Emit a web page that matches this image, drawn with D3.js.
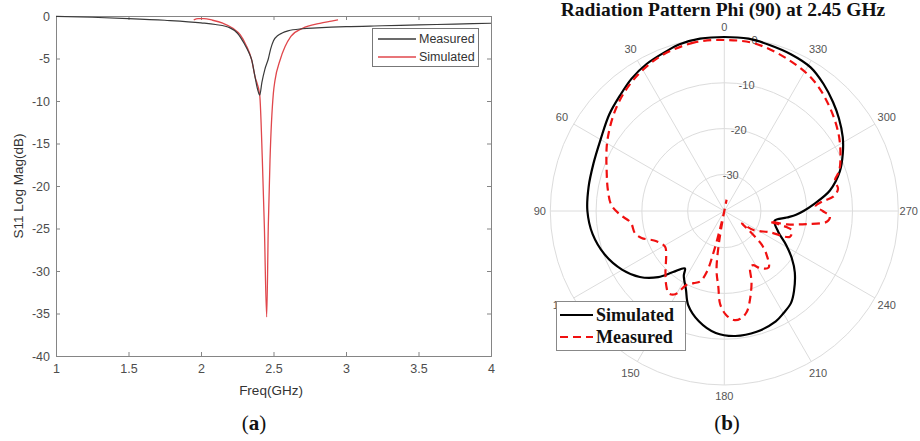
<!DOCTYPE html>
<html>
<head>
<meta charset="utf-8">
<title>S11 and radiation pattern</title>
<script src="https://cdn.jsdelivr.net/npm/d3@7/dist/d3.min.js"></script>
<style type="text/css">
html, body {
    margin: 0;
    padding: 0;
    background: #ffffff;
}
#chart {
    width: 920px;
    height: 441px;
}
.axis path, .axis line {
    stroke: #858585;
}
.axis text {
    fill: #4d4d4d;
    font-family: "Liberation Sans", Arial, sans-serif;
    font-size: 12.5px;
}
</style>
<script>
window.addEventListener("load", init, false);

// (a) S11 data
const freqMeasured = [1.0, 1.25, 1.5, 1.75, 2.0, 2.1, 2.2, 2.25, 2.3, 2.33, 2.35, 2.372, 2.39, 2.405, 2.42, 2.44, 2.465, 2.48, 2.5, 2.53, 2.56, 2.6, 2.7, 2.8, 3.0, 3.25, 3.5, 3.75, 4.0];
const s11Measured = [-0.05, -0.15, -0.3, -0.5, -0.8, -1.0, -1.4, -2.0, -3.3, -4.3, -5.2, -7.1, -8.6, -9.3, -7.8, -6.3, -5.0, -3.9, -2.9, -2.3, -2.0, -1.75, -1.5, -1.4, -1.25, -1.15, -1.05, -0.95, -0.85];

const freqSimulated = [1.95, 1.98, 2.02, 2.08, 2.15, 2.22, 2.27, 2.31, 2.35, 2.372, 2.405, 2.423, 2.437, 2.453, 2.464, 2.476, 2.499, 2.51, 2.545, 2.58, 2.62, 2.70, 2.82, 2.90, 2.945];
const s11Simulated = [-0.45, -0.3, -0.3, -0.5, -0.85, -1.45, -2.2, -3.4, -5.2, -7.1, -9.3, -16.9, -24.8, -35.4, -24.8, -16.9, -9.1, -7.6, -5.2, -3.6, -2.4, -1.45, -0.86, -0.6, -0.45];

const freqTicks = [1, 1.5, 2, 2.5, 3, 3.5, 4];
const s11Ticks = [-40, -35, -30, -25, -20, -15, -10, -5, 0];

// (b) radiation pattern, angle in degrees, gain in dB
const thetaSimulated = [0, 8, 15, 20, 28, 35, 42, 50, 60, 70, 80, 90, 100, 110, 120, 128, 135, 140, 145.5, 148, 154, 159, 167, 176, 185, 195, 205, 210, 216, 221, 229, 235, 241, 249, 259, 264, 267, 270, 274, 281, 289, 296, 302, 309, 315, 322, 329, 337, 345, 352];
const gainSimulated = [0, 0, -0.3, -0.9, -1.7, -2.7, -4.0, -5.2, -6.8, -7.6, -7.9, -8.1, -8.8, -10.2, -12.3, -14.6, -17.6, -20.6, -22.8, -21.3, -18.9, -16.0, -13.3, -11.3, -10.6, -10.7, -11.4, -12.2, -13.2, -14.8, -17.6, -20, -22.5, -25.4, -26.8, -24.3, -22.3, -20.7, -18.6, -14.5, -11.3, -9.2, -7.5, -5.8, -4.4, -2.8, -1.4, -0.8, -0.4, 0];

const thetaMeasured = [0, 10, 23, 35, 46, 59, 72, 80, 87, 92, 97, 104, 108, 114, 121, 127, 136, 142, 146, 149.5, 153, 157, 161, 164, 165.5, 166.5, 167.5, 168.5, 169.5, 170.5, 172.5, 175.5, 177.5, 181, 185, 188.5, 192.5, 196.5, 201, 205, 208, 212, 218, 224, 228, 230, 232.5, 234.7, 237, 245, 248.6, 254, 255.5, 257, 258, 261, 264, 267, 270, 273, 275.5, 277.5, 281, 285.6, 289, 295, 304, 315, 326, 338, 350];
const gainMeasured = [-0.66, -0.6, -1.5, -3.2, -5.3, -8.2, -11.0, -12.2, -13.3, -15.2, -17.4, -17.9, -19.0, -21.8, -22.9, -22.1, -19.5, -17.4, -16.3, -16.9, -19.9, -20.9, -21.7, -24.2, -29, -34, -38, -40.5, -38, -31, -25, -21.4, -17.6, -15.3, -14.1, -14.2, -15.4, -18.1, -21.4, -24.6, -24.6, -23.3, -22.3, -24.7, -27, -29.3, -31.8, -33.3, -30.4, -27, -22.6, -22.7, -24, -27.8, -24, -19.8, -15.5, -14.9, -16.5, -18, -16.5, -14, -12.7, -12.9, -11.5, -10, -7.9, -5.6, -3.4, -2.0, -0.8];

const angleTicks = [0, 30, 60, 90, 120, 150, 180, 210, 240, 270, 300, 330];
const ringTicks = [-30, -20, -10, 0];

function init() {
    const svg = d3.select("#chart").append("svg").attr("width", 920).attr("height", 441);
    svg.append("rect").attr("width", 920).attr("height", 441).attr("fill", "#ffffff");
    drawS11(svg);
    drawPolar(svg);
}

// 左: S11
function drawS11(svg) {
    const x = d3.scaleLinear().domain([1, 4]).range([56, 491]);
    const y = d3.scaleLinear().domain([-40, 0]).range([356, 16]);
    const fmt = d => String(d);

    svg.append("g").attr("class", "axis").attr("transform", "translate(0,356)")
        .call(d3.axisBottom(x).tickValues(freqTicks).tickFormat(fmt).tickSize(-4).tickPadding(8));
    svg.append("g").attr("class", "axis").attr("transform", "translate(0,16)")
        .call(d3.axisTop(x).tickValues(freqTicks).tickFormat("").tickSize(-4));
    svg.append("g").attr("class", "axis").attr("transform", "translate(56,0)")
        .call(d3.axisLeft(y).tickValues(s11Ticks).tickFormat(fmt).tickSize(-4).tickPadding(6));
    svg.append("g").attr("class", "axis").attr("transform", "translate(491,0)")
        .call(d3.axisRight(y).tickValues(s11Ticks).tickFormat("").tickSize(-4));

    const line = d3.line().x(d => x(d[0])).y(d => y(d[1])).curve(d3.curveMonotoneX);

    svg.append("path").datum(d3.zip(freqSimulated, s11Simulated))
        .attr("d", line).attr("fill", "none").attr("stroke", "#e0474c").attr("stroke-width", 1.3);
    svg.append("path").datum(d3.zip(freqMeasured, s11Measured))
        .attr("d", line).attr("fill", "none").attr("stroke", "#3a3a3a").attr("stroke-width", 1.2);

    // 軸ラベル
    svg.append("text").attr("transform", "translate(18,186) rotate(-90)")
        .attr("text-anchor", "middle").attr("dominant-baseline", "central")
        .style("font-family", "'Liberation Sans', Arial, sans-serif").style("font-size", "13.5px").attr("fill", "#333")
        .text("S11 Log Mag(dB)");
    svg.append("text").attr("x", 271).attr("y", 395)
        .attr("text-anchor", "middle")
        .style("font-family", "'Liberation Sans', Arial, sans-serif").style("font-size", "13.5px").attr("fill", "#333")
        .text("Freq(GHz)");

    // 凡例
    const lg = svg.append("g");
    lg.append("rect").attr("x", 372.5).attr("y", 28.5).attr("width", 106).attr("height", 38)
        .attr("fill", "#fff").attr("stroke", "#777");
    const items = [["Measured", "#3a3a3a"], ["Simulated", "#e0474c"]];
    items.forEach((it, i) => {
        const yy = 39 + i * 18;
        lg.append("line").attr("x1", 378).attr("x2", 416).attr("y1", yy).attr("y2", yy)
            .attr("stroke", it[1]).attr("stroke-width", 1.3);
        lg.append("text").attr("x", 419).attr("y", yy).attr("dominant-baseline", "central")
            .style("font-family", "'Liberation Sans', Arial, sans-serif").style("font-size", "12.5px").attr("fill", "#333")
            .text(it[0]);
    });

    const cap = svg.append("text").attr("x", 254).attr("y", 430).attr("text-anchor", "middle")
        .style("font-family", "'Liberation Serif', 'DejaVu Serif', serif").style("font-size", "21px").attr("fill", "#111");
    cap.append("tspan").text("(");
    cap.append("tspan").attr("font-weight", "bold").text("a");
    cap.append("tspan").text(")");
}

// 右: 放射パターン
function drawPolar(svg) {
    const cx = 724.3, cy = 211, R = 174;
    const r = d3.scaleLinear().domain([-38, 0]).range([0, R]);
    const g = svg.append("g").attr("transform", "translate(" + cx + "," + cy + ")");
    const rad = a => a * Math.PI / 180;

    // グリッド
    g.selectAll(".ring").data(ringTicks).enter().append("circle")
        .attr("r", d => r(d)).attr("fill", "none").attr("stroke", "#dcdcdc").attr("stroke-width", 1);
    g.selectAll(".spoke").data(angleTicks).enter().append("line")
        .attr("x1", 0).attr("y1", 0)
        .attr("x2", d => -R * Math.sin(rad(d))).attr("y2", d => -R * Math.cos(rad(d)))
        .attr("stroke", "#dcdcdc").attr("stroke-width", 1);

    // 角度ラベル (斜めのものは少し外側)
    const labelR = d => 184.5 + 3.5 * Math.abs(Math.sin(rad(2 * d)));
    const labelFont = "'Liberation Sans', Arial, sans-serif";
    g.selectAll(".alabel").data(angleTicks).enter().append("text")
        .attr("x", d => -labelR(d) * Math.sin(rad(d))).attr("y", d => -labelR(d) * Math.cos(rad(d)))
        .attr("text-anchor", "middle").attr("dominant-baseline", "central")
        .style("font-family", labelFont).style("font-size", "11px").attr("fill", "#555")
        .text(d => d);
    g.selectAll(".rlabel").data(ringTicks).enter().append("text")
        .attr("x", d => r(d) * Math.sin(rad(10))).attr("y", d => -r(d) * Math.cos(rad(10)))
        .attr("text-anchor", "middle").attr("dominant-baseline", "central")
        .style("font-family", labelFont).style("font-size", "11px").attr("fill", "#555")
        .text(d => String(d));

    const line = d3.lineRadial().angle(d => -rad(d[0])).radius(d => r(d[1]))
        .curve(d3.curveCatmullRomClosed.alpha(0.5));

    g.append("path").datum(d3.zip(thetaSimulated, gainSimulated))
        .attr("d", line).attr("fill", "none").attr("stroke", "#000").attr("stroke-width", 2.2);
    g.append("path").datum(d3.zip(thetaMeasured, gainMeasured))
        .attr("d", line).attr("fill", "none").attr("stroke", "#f01010").attr("stroke-width", 2.2)
        .attr("stroke-dasharray", "8,5");

    // タイトル
    svg.append("text").attr("x", 723).attr("y", 16).attr("text-anchor", "middle")
        .style("font-family", "'Liberation Serif', 'Times New Roman', serif").style("font-size", "19.5px")
        .attr("font-weight", "bold").attr("fill", "#111")
        .text("Radiation Pattern Phi (90) at 2.45 GHz");

    // 凡例
    const lg = svg.append("g");
    lg.append("rect").attr("x", 556.5).attr("y", 301.5).attr("width", 129).attr("height", 49)
        .attr("fill", "#fff").attr("stroke", "#888");
    const items = [["Simulated", "#000", null], ["Measured", "#f01010", "8,5"]];
    items.forEach((it, i) => {
        const yy = 315 + i * 22;
        lg.append("line").attr("x1", 560).attr("x2", 593).attr("y1", yy).attr("y2", yy)
            .attr("stroke", it[1]).attr("stroke-width", 2.2).attr("stroke-dasharray", it[2]);
        lg.append("text").attr("x", 596).attr("y", yy + 6)
            .style("font-family", "'Liberation Serif', 'Times New Roman', serif").style("font-size", "18px")
            .attr("font-weight", "bold").attr("fill", "#111")
            .text(it[0]);
    });

    const cap = svg.append("text").attr("x", 727).attr("y", 430).attr("text-anchor", "middle")
        .style("font-family", "'Liberation Serif', 'DejaVu Serif', serif").style("font-size", "21px").attr("fill", "#111");
    cap.append("tspan").text("(");
    cap.append("tspan").attr("font-weight", "bold").text("b");
    cap.append("tspan").text(")");
}
</script>
</head>
<body>
<div id="chart"></div>
</body>
</html>
